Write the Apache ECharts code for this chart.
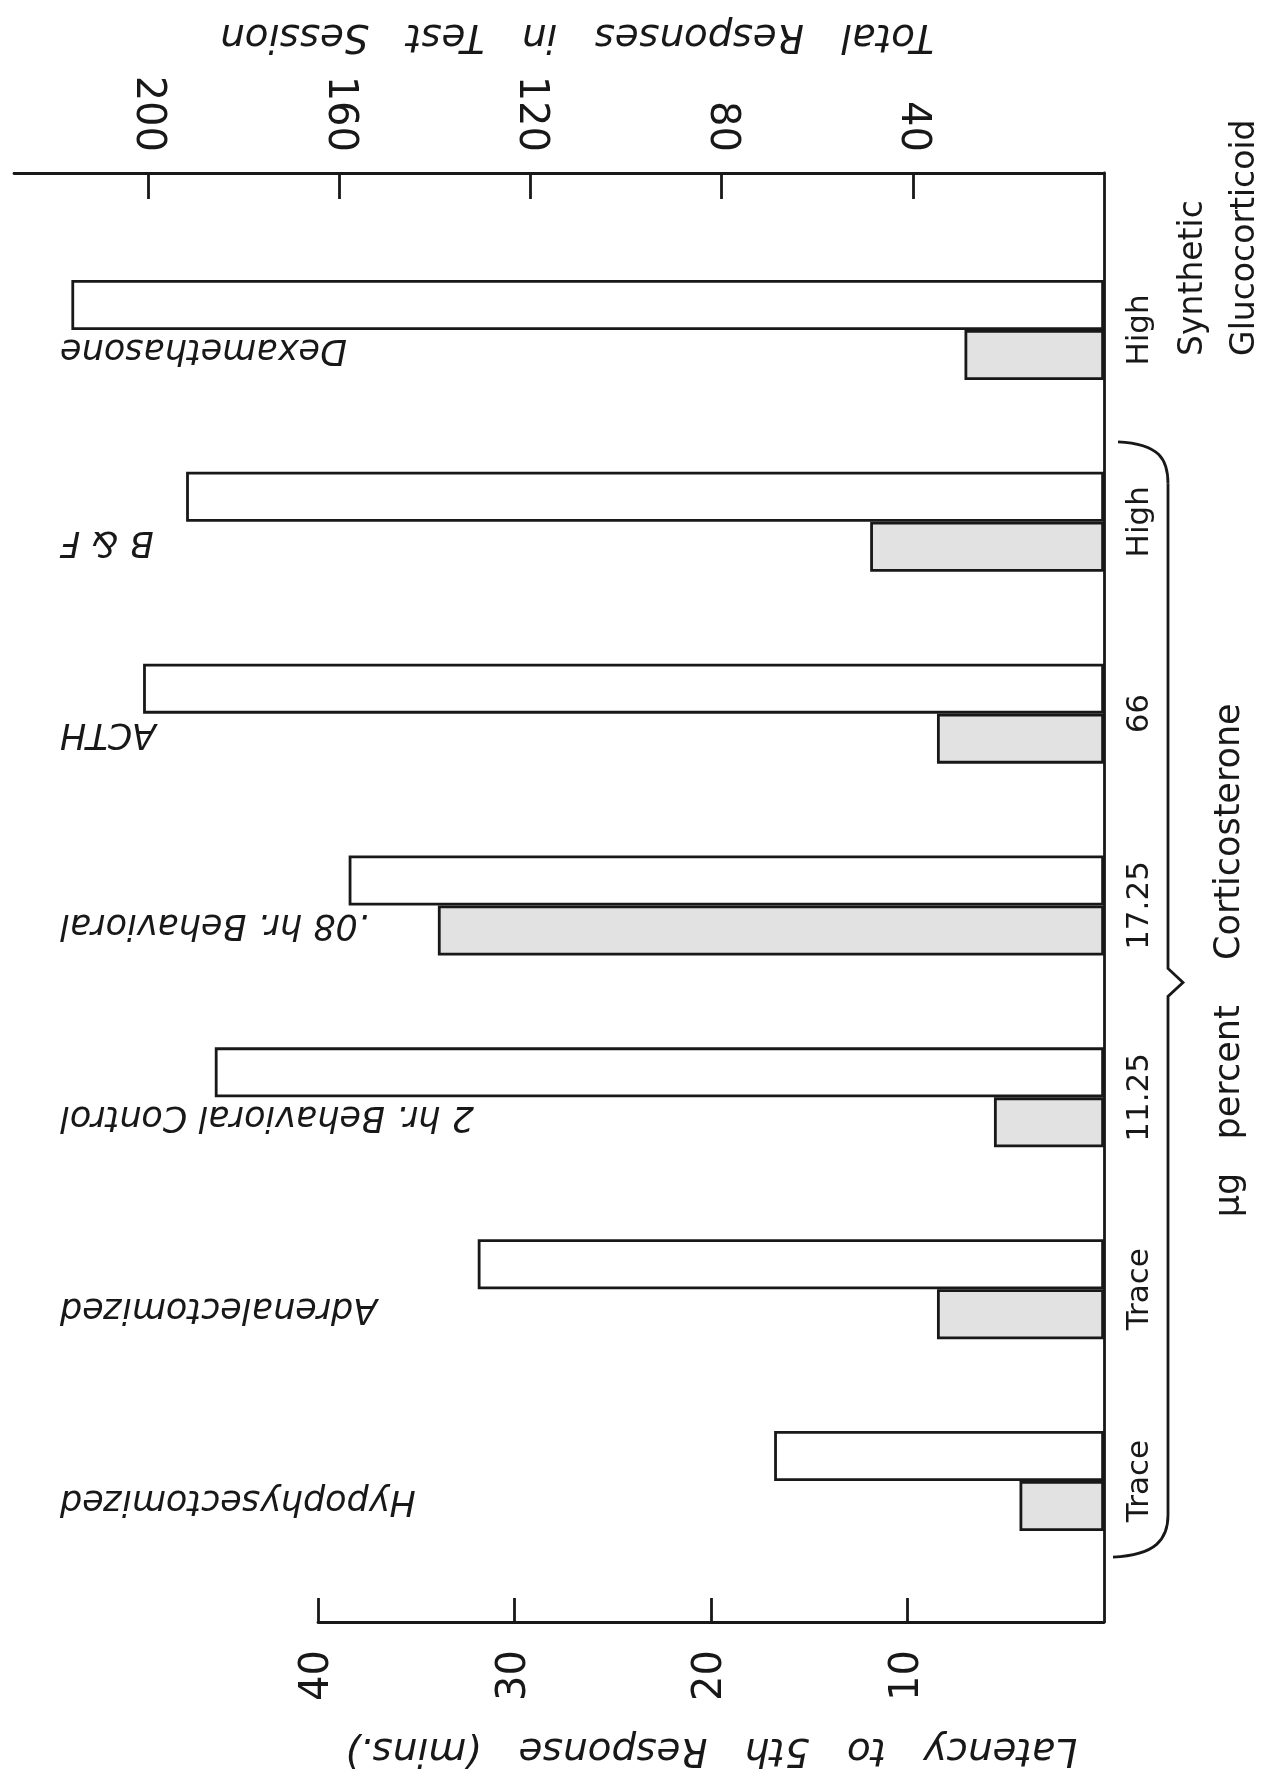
<!DOCTYPE html>
<html><head><meta charset="utf-8">
<script src="https://cdn.jsdelivr.net/npm/echarts@6/dist/echarts.min.js"></script>
<style>html,body{margin:0;padding:0;background:#fff}#c{width:1264px;height:1784px}</style>
</head><body><div id="c"></div>
<script>
// Data (original order: first category drawn at the bottom of the page)
const groups = ['Hypophysectomized', 'Adrenalectomized', '2 hr. Behavioral Control', '.08 hr. Behavioral', 'ACTH', 'B & F', 'Dexamethasone'];
const doseLabels = ['Trace', 'Trace', '11.25', '17.25', '66', 'High', 'High'];
const totalResponses = [69, 131, 186, 158, 201, 192, 216];
const latencyMins = [4.3, 8.5, 5.6, 33.9, 8.5, 11.9, 7.1];
const totalTicks = [40, 80, 120, 160, 200];
const latencyTicks = [10, 20, 30, 40];
const totalTitle = 'Total   Responses   in   Test   Session';
const latencyTitle = 'Latency   to   5th   Response   (mins.)';

const INK = '#181818';
const SANS = "'DejaVu Sans', 'Liberation Sans', sans-serif";
const chart = echarts.init(document.getElementById('c'), null, { renderer: 'canvas' });
const lineSt = { color: INK, width: 2.8 };
const numLabel = { fontFamily: SANS, fontSize: 40, color: INK };
const italicName = { fontFamily: SANS, fontStyle: 'italic', fontSize: 39, color: INK };

chart.setOption({
  backgroundColor: '#ffffff',
  animation: false,
  grid: [
    { left: 14, right: 160, top: 234, bottom: 207, outerBoundsMode: 'none' },
    { left: 318, right: 160, top: 234, bottom: 207, outerBoundsMode: 'none' },
    { left: 14, right: 160, top: 173, bottom: 162, outerBoundsMode: 'none' }
  ],
  xAxis: [
    {
      gridIndex: 0, type: 'value', position: 'top', inverse: true, min: 0, max: 228, offset: 61,
      axisLine: { show: true, onZero: false, lineStyle: lineSt },
      axisTick: { show: true, inside: true, length: 26, customValues: totalTicks, lineStyle: lineSt },
      axisLabel: Object.assign({ show: true, rotate: 90, margin: 21, customValues: totalTicks }, numLabel),
      splitLine: { show: false },
      name: totalTitle, nameLocation: 'middle', nameRotate: 180, nameGap: 118, nameMoveOverlap: false,
      nameTextStyle: Object.assign({ padding: [0, 36, 0, 0] }, italicName)
    },
    {
      gridIndex: 1, type: 'value', position: 'bottom', inverse: true, min: 0, max: 40, offset: 45,
      axisLine: { show: true, onZero: false, lineStyle: lineSt },
      axisTick: { show: true, inside: true, length: 24, customValues: latencyTicks, lineStyle: lineSt },
      axisLabel: Object.assign({ show: true, rotate: 90, margin: 28, customValues: latencyTicks }, numLabel),
      splitLine: { show: false },
      name: latencyTitle, nameLocation: 'middle', nameRotate: 180, nameGap: 108, nameMoveOverlap: false,
      nameTextStyle: italicName
    },
    { gridIndex: 2, type: 'value', min: 0, max: 1, show: false }
  ],
  yAxis: [
    {
      gridIndex: 0, type: 'category', data: doseLabels, position: 'right',
      axisLine: { show: false, onZero: false }, axisTick: { show: false }, splitLine: { show: false },
      axisLabel: { show: true, interval: 0, rotate: 90, margin: 20, fontFamily: SANS, fontSize: 31, color: INK }
    },
    {
      gridIndex: 0, type: 'category', data: groups, position: 'left',
      axisLine: { show: false, onZero: false }, axisTick: { show: false }, splitLine: { show: false },
      axisLabel: { show: true, interval: 0, inside: true, rotate: 180, margin: 46, lineHeight: 38,
        formatter: v => v + '\n',
        fontFamily: SANS, fontStyle: 'italic', fontSize: 35, color: INK }
    },
    {
      gridIndex: 1, type: 'category', data: groups, show: false
    },
    {
      gridIndex: 2, type: 'value', min: 0, max: 1, position: 'right',
      axisLine: { show: true, onZero: false, lineStyle: lineSt },
      axisTick: { show: false }, axisLabel: { show: false }, splitLine: { show: false }
    }
  ],
  series: [
    {
      name: 'Total Responses in Test Session', type: 'bar', xAxisIndex: 0, yAxisIndex: 0,
      data: totalResponses, barWidth: 50, barGap: '0%',
      itemStyle: { color: '#ffffff', borderColor: INK, borderWidth: 2.8 }
    },
    { name: 'slot-a', type: 'bar', xAxisIndex: 0, yAxisIndex: 0, data: [], barWidth: 50, barGap: '0%' },
    { name: 'slot-b', type: 'bar', xAxisIndex: 1, yAxisIndex: 2, data: [], barWidth: 50, barGap: '0%' },
    {
      name: 'Latency to 5th Response (mins.)', type: 'bar', xAxisIndex: 1, yAxisIndex: 2,
      data: latencyMins, barWidth: 50, barGap: '0%',
      itemStyle: { color: '#e2e2e2', borderColor: INK, borderWidth: 2.8 }
    }
  ]
});

// Decorative brace and group captions, positioned from the category axis
const yc = i => chart.convertToPixel({ yAxisIndex: 0 }, i);
const xB = 1168;
const yTop = yc(5) - 80, yBot = yc(0) + 76, yCusp = (yc(3) + yc(2)) / 2 - 19;
const braceStyle = { fill: null, stroke: INK, lineWidth: 2.8 };
const capStyle = (t, align, size) => ({ text: t, fontFamily: SANS, fontSize: size, fill: INK, align: align, verticalAlign: 'middle' });
chart.setOption({
  graphic: [
    { type: 'bezierCurve', shape: { x1: 1118, y1: yTop, cpx1: 1160, cpy1: yTop + 2, cpx2: xB, cpy2: yTop + 18, x2: xB, y2: yTop + 42 }, style: braceStyle },
    { type: 'polyline', shape: { points: [[xB, yTop + 42], [xB, yCusp - 14], [xB + 15, yCusp], [xB, yCusp + 14], [xB, yBot - 42]] }, style: braceStyle },
    { type: 'bezierCurve', shape: { x1: xB, y1: yBot - 42, cpx1: xB, cpy1: yBot - 18, cpx2: 1156, cpy2: yBot - 2, x2: 1113, y2: yBot }, style: braceStyle },
    { type: 'text', x: 1230, y: (yc(1) + yc(2)) / 2 - 82, rotation: Math.PI / 2, style: capStyle('μg   percent', 'center', 35) },
    { type: 'text', x: 1230, y: yc(4) + 118, rotation: Math.PI / 2, style: capStyle('Corticosterone', 'center', 35) },
    { type: 'text', x: 1193, y: yc(6) + 26, rotation: Math.PI / 2, style: capStyle('Synthetic', 'left', 33) },
    { type: 'text', x: 1245, y: yc(6) + 26, rotation: Math.PI / 2, style: capStyle('Glucocorticoid', 'left', 33) }
  ]
});
</script></body></html>
